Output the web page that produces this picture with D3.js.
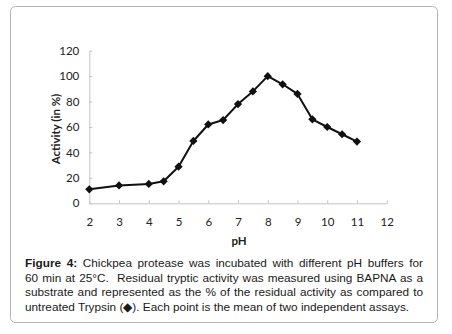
<!DOCTYPE html>
<html>
<head>
<meta charset="utf-8">
<script src="https://cdn.jsdelivr.net/npm/d3@7"></script>
<style>
  body { margin: 0; background: #fff; }
  svg { display: block; }
</style>
</head>
<body>
<script>
const width = 452;
const height = 334;

// pH values and residual activity (% of untreated trypsin)
const phValues = [2, 3, 4, 4.5, 5, 5.5, 6, 6.5, 7, 7.5, 8, 8.5, 9, 9.5, 10, 10.5, 11];
const activity = [11, 14, 15.2, 17.3, 28.8, 49, 62, 65.5, 78, 88, 100, 93.6, 86, 66, 60, 54.3, 48.5];

const xTicks = [2, 3, 4, 5, 6, 7, 8, 9, 10, 11, 12];
const yTicks = [0, 20, 40, 60, 80, 100, 120];

const captionLines = [
  ["Figure 4:", " Chickpea protease was incubated with different pH buffers for"],
  ["", "60 min at 25\u00B0C.  Residual tryptic activity was measured using BAPNA as a"],
  ["", "substrate and represented as the % of the residual activity as compared to"],
  ["", "untreated Trypsin (\u25C6). Each point is the mean of two independent assays."]
];

const data = phValues.map((p, i) => ({ph: p, value: activity[i]}));

const plot = {left: 89.3, right: 386.7, top: 50.7, bottom: 203.3};

const svg = d3.select("body").append("svg")
  .attr("width", width)
  .attr("height", height);

// frame
svg.append("rect")
  .attr("x", 10.5).attr("y", 6.5)
  .attr("width", 427).attr("height", 316)
  .attr("rx", 5)
  .attr("fill", "#fff")
  .attr("stroke", "#b4b4b4")
  .attr("stroke-width", 1);

const x = d3.scaleLinear().domain([2, 12]).range([plot.left, plot.right]);
const y = d3.scaleLinear().domain([0, 120]).range([plot.bottom, plot.top]);

const xAxis = g => g
  .attr("transform", `translate(0,${plot.bottom})`)
  .call(d3.axisBottom(x).tickValues(xTicks).tickSizeInner(-3).tickSizeOuter(0).tickPadding(15))
  .call(g => g.selectAll("path, line").attr("stroke", "#c4c4c4"))
  .call(g => g.selectAll("text").attr("fill", "#222"));

const yAxis = g => g
  .attr("transform", `translate(${plot.left},0)`)
  .call(d3.axisLeft(y).tickValues(yTicks).tickSizeInner(-3).tickSizeOuter(0).tickPadding(10))
  .call(g => g.selectAll("path, line").attr("stroke", "#c4c4c4"))
  .call(g => g.selectAll("text").attr("fill", "#222"));

svg.append("g").call(xAxis)
  .attr("font-family", "Lato, sans-serif").attr("font-size", 11.5);
svg.append("g").call(yAxis)
  .attr("font-family", "Lato, sans-serif").attr("font-size", 11.5);

// axis titles
svg.append("text")
  .attr("transform", `translate(60,${(plot.top + plot.bottom) / 2 + 2}) rotate(-90)`)
  .attr("text-anchor", "middle")
  .attr("font-family", "Lato, sans-serif")
  .attr("font-size", 11.5)
  .attr("font-weight", "bold")
  .attr("fill", "#222")
  .text("Activity (in %)");

svg.append("text")
  .attr("x", 239).attr("y", 245)
  .attr("text-anchor", "middle")
  .attr("font-family", "Lato, sans-serif")
  .attr("font-size", 11.5)
  .attr("font-weight", "bold")
  .attr("fill", "#222")
  .text("pH");

const line = d3.line()
  .x(d => x(d.ph))
  .y(d => y(d.value));

svg.append("path")
  .datum(data)
  .attr("fill", "none")
  .attr("stroke", "#111")
  .attr("stroke-width", 2)
  .attr("stroke-linejoin", "round")
  .attr("d", line);

svg.append("g")
  .selectAll("path")
  .data(data)
  .join("path")
  .attr("transform", d => `translate(${x(d.ph)},${y(d.value)}) rotate(45)`)
  .attr("d", d3.symbol(d3.symbolSquare, 34))
  .attr("fill", "#111");

// caption, justified like the source
const capLeft = 25, capRight = 423, capTop = 267, capStep = 14.5;
captionLines.forEach((ln, i) => {
  const t = svg.append("text")
    .attr("x", capLeft)
    .attr("y", capTop + i * capStep)
    .attr("font-family", "'Liberation Sans', Arial, sans-serif")
    .attr("font-size", 11.8)
    .attr("fill", "#1a1a1a")
    .attr("xml:space", "preserve");
  if (ln[0]) t.append("tspan").attr("font-weight", "bold").text(ln[0]);
  t.append("tspan").text(ln[1]);
  if (i < captionLines.length - 1) {
    const full = ln[0] + ln[1];
    const spaces = (full.match(/ /g) || []).length;
    const w = t.node().getComputedTextLength();
    t.attr("word-spacing", (capRight - capLeft - w) / spaces);
  }
});
</script>
</body>
</html>
